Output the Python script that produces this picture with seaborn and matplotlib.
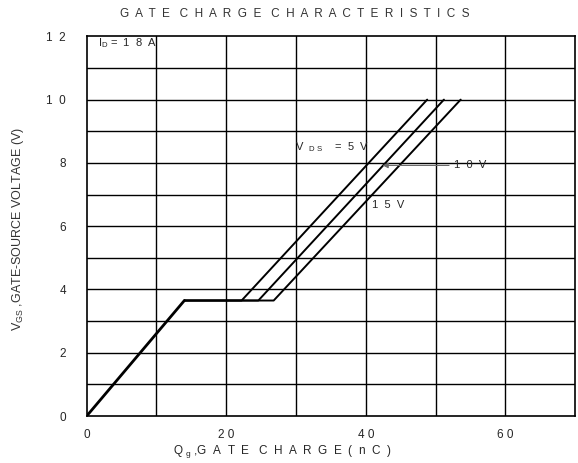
import pandas as pd
import matplotlib
matplotlib.use("Agg")
import matplotlib.pyplot as plt
import seaborn as sns

# curve data (Qg in nC, Vgs in V)
rise_q = [0, 14.0]
rise_v = [0, 3.65]

vds_labels = ["5V", "10V", "15V"]
q_5v = [14.0, 22.2, 48.8]
q_10v = [14.0, 24.6, 51.2]
q_15v = [14.0, 26.8, 53.6]
v_curve = [3.65, 3.65, 10.0]

x_ticks = [0, 20, 40, 60]
y_ticks = [0, 2, 4, 6, 8, 10, 12]


def spaced(s, gap="  "):
    # spread out letters like the datasheet font
    return "   ".join(gap.join(w) for w in s.split(" "))


sns.set_style("white")
plt.rcParams["font.family"] = ["Liberation Sans", "DejaVu Sans"]
plt.rcParams["mathtext.fontset"] = "custom"
plt.rcParams["mathtext.rm"] = "Liberation Sans"
plt.rcParams["mathtext.it"] = "Liberation Sans"

rows = []
for lab, qs in zip(vds_labels, [q_5v, q_10v, q_15v]):
    for q, v in zip(qs, v_curve):
        rows.append({"Qg": q, "Vgs": v, "Vds": lab})
df = pd.DataFrame(rows)
rise = pd.DataFrame({"Qg": rise_q, "Vgs": rise_v})

fig = plt.figure(figsize=(5.78, 4.63), dpi=100)
ax = fig.add_axes([0.15, 0.1015, 0.845, 0.82])

# grid every 10 nC / 1 V
for x in range(10, 70, 10):
    ax.axvline(x, color="black", lw=1.0, zorder=1)
for y in range(1, 12):
    ax.axhline(y, color="black", lw=1.0, zorder=1)

sns.lineplot(data=df, x="Qg", y="Vgs", hue="Vds", palette=["black"] * 3,
             sort=False, estimator=None, lw=1.4, legend=False, ax=ax, zorder=3)
sns.lineplot(data=rise, x="Qg", y="Vgs", color="black", lw=2.0,
             sort=False, estimator=None, ax=ax, zorder=3)

ax.set_xlim(0, 70)
ax.set_ylim(0, 12)
ax.set_xticks(x_ticks)
ax.set_xticklabels([spaced(str(t), " ") for t in x_ticks], fontsize=8.5)
ax.set_yticks(y_ticks)
ax.set_yticklabels([spaced(str(t), "  ") for t in y_ticks], fontsize=8.5)
ax.tick_params(axis="y", length=0, pad=15)
ax.tick_params(axis="x", length=0, pad=9)
for sp in ax.spines.values():
    sp.set_color("black")
    sp.set_linewidth(1.2)

ax.set_xlabel("")
ax.set_ylabel("")

ax.text(1.6, 11.78, r"I$_{D}$ =  1  8  A", fontsize=8, va="center", ha="left")
ax.text(29.8, 8.5, r"V  $_{D\ S}$    =  5  V", fontsize=8, va="center", ha="left")
ax.text(40.9, 6.68, "1  5  V", fontsize=8, va="center", ha="left")
ax.annotate("1  0  V", xy=(42.4, 7.92), xytext=(52.6, 7.92), fontsize=8,
            va="center", ha="left",
            arrowprops=dict(arrowstyle="-|>", color="dimgray", lw=0.8,
                            mutation_scale=8, shrinkA=1, shrinkB=0))

fig.text(295 / 578, 1 - 14 / 463, spaced("GATE CHARGE CHARACTERISTICS"),
         ha="center", va="center", fontsize=8.5, color="#333333")
fig.text(282 / 578, 1 - 451 / 463, "Q $_{g}$ ," + spaced("GATE CHARGE(nC)"),
         ha="center", va="center", fontsize=8.5)
fig.text(18 / 578, 1 - 229 / 463, "V$_{GS}$ ,GATE-SOURCE VOLTAGE (V)",
         ha="center", va="center", rotation=90, fontsize=9, color="#333333")

fig.savefig("out.png", dpi=100)
